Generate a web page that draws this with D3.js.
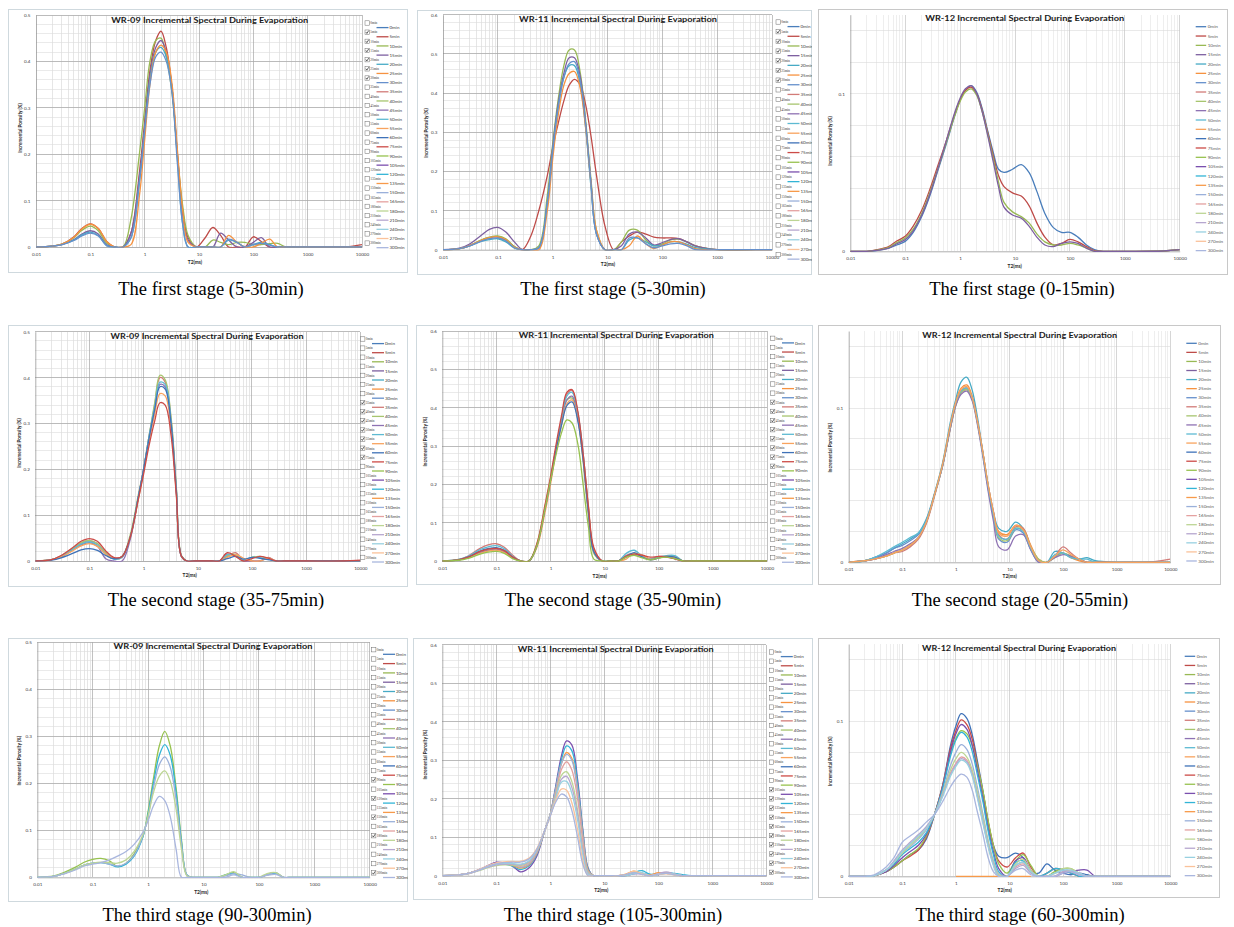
<!DOCTYPE html>
<html>
<head>
<meta charset="utf-8">
<script src="https://cdn.jsdelivr.net/npm/d3@7"></script>
<style>
  body { margin: 0; background: #fff; }
  svg { display: block; }
</style>
</head>
<body>
<svg id="chart" width="1234" height="927"></svg>
<script>
// T2 sample positions (ms), shared by every spectrum below
const t2 = [0.01, 0.02, 0.03, 0.05, 0.07, 0.1, 0.14, 0.2, 0.28, 0.4, 0.56, 0.8,
  1, 1.25, 1.6, 2, 2.5, 3.2, 4, 5, 6.3, 9, 13, 18,
  25, 35, 50, 70, 100, 140, 200, 280, 400, 1000, 5000, 10000];

// legend entries (evaporation time) and their series colours
const minutes = ["0min", "5min", "10min", "15min", "20min", "25min", "30min", "35min", "40min",
  "45min", "50min", "55min", "60min", "75min", "90min", "105min", "120min", "135min", "150min",
  "165min", "180min", "210min", "240min", "270min", "300min"];
const palette = ["#4a7ebb", "#be4b48", "#98b954", "#7d60a0", "#46aac5", "#f69240", "#6690cc",
  "#d27b78", "#a7c56f", "#8e72b3", "#5dbad2", "#f8a35e", "#3f72b8", "#cc4b47", "#97c24f",
  "#7a4fae", "#32b4d6", "#f79a4a", "#9ab0da", "#e4a1a0", "#bcd594", "#b6a6cf", "#98d0e0",
  "#fac29a", "#a9b6de"];

// incremental porosity (%) at each t2 value
const wr09First = [
  ["5min", [0,.002,.006,.022,.04,.05, .04,.012,0,0,.03,.16, .27,.38,.445,.465,.43,.34, .2,.08,.02,0,.02,.042, .025,0,0,0,.022,.012, 0,0,0,0,0,.005]],
  ["10min", [0,.002,.006,.02,.036,.045, .035,.008,0,0,.06,.2, .3,.4,.445,.45,.41,.33, .2,.09,.025,0,0,.015, .01,.005,.01,.01,.005,.005, .007,.008,0,0,0,0]],
  ["15min", [0,.002,.005,.016,.028,.035, .028,.005,0,0,.03,.15, .26,.37,.43,.445,.42,.34, .2,.07,.015,0,0,0, .03,.015,0,0,.01,.02, 0,0,0,0,0,0]],
  ["20min", [0,.002,.005,.015,.026,.032, .025,.003,0,0,.02,.14, .25,.36,.42,.43,.41,.34, .19,.05,0,0,0,0, 0,.015,.01,0,.005,.01, .005,0,0,0,0,0]],
  ["25min", [0,.002,.006,.021,.039,.049, .04,.012,0,0,.005,.11, .23,.35,.42,.435,.42,.35, .21,.08,.01,0,0,0, 0,.025,.01,0,0,.008, .017,0,0,0,0,0]],
  ["30min", [0,.002,.005,.014,.024,.03, .024,.003,0,0,.02,.14, .25,.35,.41,.42,.4,.33, .18,.05,0,0,0,0, 0,.017,.01,0,.005,.008, .004,0,0,0,0,0]]
];

const wr11First = [
  ["5min", [0,.003,.01,.024,.031,.033, .025,.008,0,.035,.1,.19, .26,.32,.38,.42,.435,.42, .37,.29,.19,.06,0,.02, .035,.045,.04,.032,.03,.03, .028,.02,.01,0,0,0]],
  ["10min", [0,.003,.01,.025,.032,.035, .028,.008,0,0,.01,.14, .27,.38,.47,.51,.51,.45, .33,.18,.05,0,0,.02, .05,.05,.025,.01,.015,.025, .027,.02,.01,0,0,0]],
  ["15min", [0,.004,.014,.037,.052,.057, .045,.02,0,0,.005,.12, .26,.37,.45,.49,.49,.44, .32,.17,.04,0,0,.01, .04,.045,.03,.012,.018,.026, .028,.02,.01,0,0,0]],
  ["20min", [0,.003,.009,.021,.026,.028, .02,.004,0,0,.005,.12, .25,.36,.44,.47,.47,.42, .31,.16,.04,0,0,0, .025,.03,.02,.01,.012,.02, .02,.014,.005,0,0,0]],
  ["25min", [0,.003,.01,.024,.031,.033, .026,.006,0,0,0,.1, .23,.34,.42,.45,.455,.41, .31,.17,.05,0,0,0, .01,.035,.015,.003,.012,.02, .02,.012,.003,0,0,0]],
  ["30min", [0,.003,.009,.022,.028,.03, .023,.005,0,0,.005,.12, .25,.36,.44,.475,.48,.43, .32,.17,.04,0,0,0, .03,.03,.015,.005,.01,.015, .016,.01,0,0,0,0]]
];

const wr12First = [
  ["0min", [0,0,.0005,.002,.004,.0063, .012,.022,.035,.052,.068,.086, .096,.102,.105,.101,.091,.076, .063,.052,.05,.052,.055,.05, .038,.024,.015,.012,.012,.009, .004,.001,0,0,.0002,.001]],
  ["5min", [0,0,.001,.003,.0065,.0095, .016,.026,.039,.055,.07,.087, .096,.102,.104,.1,.09,.075, .061,.048,.041,.037,.035,.029, .018,.009,.004,.005,.0075,.006, .003,.0005,0,0,.0002,.001]],
  ["10min", [0,0,.0007,.0025,.0055,.0084, .014,.024,.037,.053,.069,.086, .095,.101,.103,.099,.089,.074, .059,.044,.031,.025,.022,.018, .011,.006,.004,.004,.005,.004, .002,0,0,0,.0002,.001]],
  ["15min", [0,0,.0006,.002,.0048,.0074, .013,.023,.036,.053,.07,.088, .097,.103,.105,.1,.089,.073, .057,.041,.028,.023,.021,.016, .009,.004,.003,.005,.006,.005, .002,0,0,0,.0002,.001]]
];

const wr09Second = [
  ["35min", [0,.003,.011,.027,.039,.044, .038,.018,.005,.008,.05,.14, .2,.27,.34,.4,.39,.31, .16,.01,0,0,0,0, 0,.01,.018,0,0,0, .008,0,0,0,0,0]],
  ["40min", [0,.003,.011,.028,.04,.045, .038,.018,.005,.01,.055,.145, .2,.27,.345,.405,.395,.315, .165,.012,0,0,0,0, 0,.012,.014,0,.008,.01, .005,0,0,0,0,0]],
  ["45min", [0,.003,.01,.025,.035,.04, .032,.005,0,0,.045,.14, .2,.265,.33,.385,.38,.3, .155,.01,0,0,0,0, 0,.015,.01,0,0,0, .006,0,0,0,0,0]],
  ["50min", [0,.003,.01,.026,.037,.042, .035,.015,.004,.008,.05,.14, .2,.27,.335,.39,.385,.305, .16,.01,0,0,0,0, 0,.014,.01,.002,.008,.007, .004,0,0,0,0,0]],
  ["55min", [0,.003,.009,.023,.033,.038, .032,.015,.006,.01,.05,.135, .195,.26,.32,.365,.36,.29, .15,.01,0,0,0,0, 0,.008,.014,.006,0,0, .006,0,0,0,0,0]],
  ["60min", [0,.002,.007,.017,.024,.027, .023,.012,.005,.01,.05,.14, .2,.265,.33,.38,.375,.3, .155,.01,0,0,0,0, 0,.005,.01,.004,.008,.006, .003,0,0,0,0,0]],
  ["75min", [0,.003,.012,.03,.043,.049, .043,.022,.008,.01,.05,.135, .19,.25,.305,.345,.34,.275, .145,.01,0,0,0,0, 0,.018,.01,0,.005,.01, .006,0,0,0,0,.002]]
];

const wr11Second = [
  ["35min", [0,.004,.013,.033,.042,.045, .036,.015,0,0,.04,.14, .21,.29,.37,.435,.445,.385, .28,.14,.03,0,0,0, .015,.02,.012,.005,.012,.012, .008,0,0,0,0,0]],
  ["40min", [0,.003,.009,.022,.028,.03, .025,.01,0,0,.045,.145, .215,.29,.365,.42,.425,.37, .26,.12,.02,0,0,0, .01,.02,.015,.005,.01,.012, .01,0,0,0,0,0]],
  ["45min", [0,.003,.009,.022,.028,.03, .024,.008,0,0,.04,.14, .21,.29,.365,.42,.43,.375, .27,.13,.025,0,0,0, .01,.018,.01,.004,.01,.01, .006,0,0,0,0,0]],
  ["50min", [0,.004,.012,.03,.037,.04, .032,.012,0,0,.04,.14, .21,.29,.37,.43,.44,.385, .28,.14,.03,0,0,0, .02,.028,.012,.004,.01,.014, .014,0,0,0,0,0]],
  ["55min", [0,.003,.008,.02,.026,.028, .022,.008,0,0,.035,.13, .2,.28,.355,.41,.42,.37, .27,.14,.03,0,0,0, .005,.02,.015,.004,.008,.012, .01,0,0,0,0,0]],
  ["60min", [0,.003,.01,.026,.032,.035, .028,.01,0,0,.04,.14, .21,.285,.355,.405,.415,.365, .265,.13,.025,0,0,0, .012,.022,.01,.003,.008,.012, .01,0,0,0,0,0]],
  ["75min", [0,.003,.01,.025,.031,.033, .027,.01,0,0,.045,.15, .22,.3,.38,.44,.447,.39, .28,.145,.035,0,0,0, .012,.018,.015,.01,.012,.01, .005,0,0,0,0,0]],
  ["90min", [0,.002,.007,.018,.023,.025, .02,.006,0,0,.04,.14, .21,.275,.335,.368,.36,.305, .2,.09,.005,0,0,0, .01,.015,.008,.003,.008,.01, .006,0,0,0,0,0]]
];

const wr12Second = [
  ["20min", [0,.001,.003,.006,.009,.012, .015,.019,.028,.045,.064,.092, .106,.117,.12,.112,.095,.071, .05,.033,.022,.02,.026,.022, .01,.001,0,.007,.006,.003, .002,.003,.001,0,0,0]],
  ["25min", [0,.001,.002,.004,.006,.008, .011,.016,.026,.044,.063,.09, .104,.113,.115,.108,.092,.07, .049,.032,.02,.018,.024,.022, .011,.002,0,.004,.006,.003, .001,0,0,0,0,0]],
  ["30min", [0,.001,.003,.006,.009,.011, .014,.018,.027,.044,.062,.089, .103,.111,.113,.107,.092,.07, .048,.03,.015,.013,.021,.019, .008,0,0,.004,.006,.004, .002,0,0,0,0,0]],
  ["35min", [0,.001,.002,.004,.006,.007, .01,.015,.025,.043,.062,.088, .102,.11,.112,.106,.092,.071, .05,.033,.018,.015,.023,.022, .01,.001,0,.004,.01,.006, .002,0,0,0,.0005,.002]],
  ["40min", [0,.001,.002,.004,.006,.008, .011,.016,.026,.044,.062,.088, .102,.11,.112,.106,.091,.07, .049,.031,.016,.014,.022,.021, .01,.002,0,.003,.006,.004, .002,0,0,0,0,0]],
  ["45min", [0,.001,.002,.005,.007,.009, .012,.016,.026,.044,.062,.088, .102,.109,.111,.105,.09,.068, .046,.027,.01,.008,.017,.018, .008,0,0,.003,.005,.004, .002,0,0,0,0,0]],
  ["50min", [0,.001,.003,.007,.01,.013, .016,.019,.027,.044,.063,.09, .104,.111,.113,.107,.092,.07, .049,.031,.017,.015,.022,.02, .009,.001,0,.005,.006,.003, .002,.002,0,0,0,0]],
  ["55min", [0,.001,.002,.004,.006,.008, .011,.016,.026,.044,.063,.09, .104,.112,.114,.107,.092,.071, .05,.033,.019,.017,.024,.021, .01,.001,0,.004,.008,.005, .002,0,0,0,0,0]]
];

const wr09Third = [
  ["90min", [0,.003,.01,.022,.032,.038, .04,.035,.023,.03,.05,.085, .14,.21,.28,.31,.28,.19, .08,.005,0,0,0,0, .005,.01,0,0,0,.005, .01,0,0,0,0,0]],
  ["120min", [0,.002,.008,.018,.026,.03, .031,.028,.022,.028,.045,.085, .135,.2,.26,.282,.26,.18, .075,.005,0,0,0,0, .005,.008,0,0,0,.005, .008,0,0,0,0,0]],
  ["150min", [0,.002,.008,.018,.026,.03, .031,.028,.024,.03,.047,.087, .13,.19,.24,.256,.235,.165, .07,.005,0,0,0,0, .003,.008,.005,0,0,.005, .01,0,0,0,0,0]],
  ["180min", [0,.002,.008,.018,.026,.03, .032,.031,.03,.037,.055,.09, .13,.18,.215,.226,.205,.145, .06,.003,0,0,0,0, .005,.012,0,0,0,.008, .01,0,0,0,0,0]],
  ["300min", [0,.002,.007,.016,.024,.028, .031,.037,.045,.055,.07,.095, .12,.152,.172,.163,.13,.06, 0,0,0,0,0,0, 0,.005,0,0,0,.004, .006,0,0,0,0,0]]
];

const wr11Third = [
  ["105min", [0,.002,.006,.017,.026,.035, .033,.025,.01,.02,.05,.12, .16,.23,.31,.35,.34,.25, .12,.02,0,0,0,0, 0,.005,.006,.002,.003,.008, .004,0,0,0,0,0]],
  ["120min", [0,.002,.006,.016,.024,.03, .03,.025,.016,.025,.055,.12, .16,.225,.3,.337,.325,.24, .115,.018,0,0,0,0, 0,.008,.013,.004,.005,.008, .006,.003,0,0,0,0]],
  ["135min", [0,.002,.006,.016,.024,.03, .031,.027,.02,.028,.058,.12, .16,.22,.29,.32,.305,.225, .105,.015,0,0,0,0, .004,.012,.005,.002,.008,.006, .003,0,0,0,0,0]],
  ["150min", [0,.002,.006,.016,.024,.03, .031,.028,.022,.03,.06,.12, .16,.22,.29,.315,.3,.22, .1,.012,0,0,0,0, .003,.01,.006,0,.004,.006, .004,0,0,0,0,0]],
  ["165min", [0,.002,.006,.016,.024,.03, .032,.03,.024,.033,.062,.12, .158,.21,.275,.296,.275,.2, .09,.01,0,0,0,0, .002,.008,.004,0,.005,.008, .004,0,0,0,0,0]],
  ["180min", [0,.002,.005,.014,.021,.026, .028,.028,.026,.035,.064,.12, .157,.205,.26,.27,.245,.17, .07,.008,0,0,0,0, .002,.01,.006,0,.004,.006, .003,0,0,0,0,0]],
  ["210min", [0,.002,.005,.015,.022,.028, .03,.03,.028,.036,.065,.12, .157,.2,.25,.258,.23,.16, .065,.006,0,0,0,0, 0,.006,.004,0,.005,.01, .004,0,0,0,0,0]],
  ["240min", [0,.002,.006,.016,.024,.03, .032,.032,.03,.038,.066,.12, .157,.2,.243,.245,.215,.145, .055,.004,0,0,0,0, 0,.005,.008,0,.003,.006, .004,0,0,0,0,0]],
  ["270min", [0,.002,.006,.017,.026,.033, .036,.037,.037,.045,.07,.12, .155,.195,.225,.222,.19,.12, .04,0,0,0,0,0, .003,.012,.005,0,.004,.005, .002,0,0,0,0,0]],
  ["300min", [0,.002,.006,.016,.025,.031, .034,.035,.035,.043,.068,.12, .155,.19,.212,.205,.17,.1, .03,0,0,0,0,0, .003,.008,.004,0,.004,.006, .002,0,0,0,0,0]]
];

const wr12Third = [
  ["60min", [0,0,.0005,.003,.006,.01, .014,.017,.024,.04,.058,.085, .097,.105,.102,.092,.075,.055, .035,.02,.013,.012,.015,.012, .003,.002,.008,.004,.002,.001, .002,.001,0,0,0,0]],
  ["75min", [0,0,.0005,.003,.006,.01, .013,.017,.025,.04,.058,.083, .094,.101,.098,.089,.073,.054, .035,.02,.01,.006,.012,.015, .006,0,.002,.005,.004,.002, 0,0,0,0,0,0]],
  ["90min", [0,0,.0005,.003,.006,.01, .014,.018,.026,.04,.057,.08, .089,.094,.092,.085,.072,.055, .036,.02,.008,.002,.01,.014, .007,0,0,.003,.005,.005, .002,0,0,0,0,0]],
  ["105min", [0,0,.0005,.003,.007,.012, .016,.02,.027,.04,.057,.081, .092,.098,.095,.085,.069,.05, .031,.016,.005,0,.01,.012, .004,0,0,0,.002,.003, .004,.004,0,0,0,0]],
  ["120min", [0,0,.0005,.004,.008,.014, .018,.022,.028,.04,.056,.078, .088,.093,.09,.081,.066,.048, .029,.014,.003,0,.009,.01, .003,0,.002,.005,.004,.002, 0,0,0,0,0,0]],
  ["135min", [null,null,null,null,null,null, null,null,null,null,null,null, 0,0,0,0,0,0, 0,0,0,0,0,0, 0,null,null,null,null,null, null,null,null,null,null,null]],
  ["150min", [0,0,.0005,.004,.009,.015, .019,.024,.03,.04,.054,.072, .08,.085,.082,.073,.058,.04, .023,.01,.002,0,.007,.009, .003,0,0,.002,.004,.003, .001,0,0,0,0,0]],
  ["165min", [0,0,.0005,.004,.009,.016, .021,.026,.031,.04,.052,.067, .073,.077,.075,.067,.053,.036, .02,.008,0,0,.006,.008, .003,0,0,0,.003,.004, .002,0,0,0,0,0]],
  ["180min", [0,0,.0005,.004,.009,.015, .02,.025,.031,.04,.053,.069, .076,.08,.077,.069,.055,.038, .022,.009,.001,0,.008,.011, .004,0,0,.002,.005,.005, .002,0,0,0,0,0]],
  ["210min", [0,0,.0005,.004,.01,.017, .022,.027,.032,.04,.052,.066, .072,.076,.074,.066,.052,.035, .02,.008,0,0,.005,.007, .002,0,0,0,.003,.003, .002,0,0,0,0,0]],
  ["240min", [0,0,.0005,.004,.009,.016, .021,.026,.031,.04,.051,.065, .071,.075,.073,.065,.051,.034, .019,.007,0,0,.007,.009, .003,0,0,.002,.004,.004, .002,0,0,0,0,0]],
  ["300min", [0,0,.001,.006,.012,.022, .026,.03,.035,.04,.048,.058, .063,.066,.064,.056,.042,.027, .012,.003,0,0,.004,.005, .001,0,0,0,.002,.003, .001,0,0,0,0,0]]
];

const ticks05 = [0, 0.1, 0.2, 0.3, 0.4, 0.5];
const ticks06 = [0, 0.1, 0.2, 0.3, 0.4, 0.5, 0.6];
const ticks015 = [0, 0.1];
const decades = [0.01, 0.1, 1, 10, 100, 1000, 10000];

// frame: [x, y, w, h]   plot: [x0, y0, x1, y1]
const panels = [
  { title: "WR-09 Incremental Spectral During Evaporation", series: wr09First, ymax: 0.5, yticks: ticks05, legend: "check",
    frame: [8, 9, 400, 264], plot: [36, 15, 362, 247], tx: 209.7, ty: 23, tw: 197, ytx: 20, yty: 128, xtx: 195, xty: 264,
    lx: 365, ly: 23, ls: 9.17, caption: "The first stage (5-30min)", cx: 211, cy: 295 },
  { title: "WR-11 Incremental Spectral During Evaporation", series: wr11First, ymax: 0.6, yticks: ticks06, legend: "check",
    frame: [417, 10, 395, 265], plot: [443, 14.7, 772, 249.7], tx: 618, ty: 22, tw: 198, ytx: 426, yty: 133, xtx: 608, xty: 266,
    lx: 776, ly: 22, ls: 9.69, caption: "The first stage (5-30min)", cx: 613, cy: 295 },
  { title: "WR-12 Incremental Spectral During Evaporation", series: wr12First, ymax: 0.15, yticks: ticks015, legend: "line",
    frame: [818, 9, 410, 266], plot: [850.3, 14.7, 1179.7, 251.3], tx: 1024.7, ty: 21, tw: 199, ytx: 830.7, yty: 141, xtx: 1014.7, xty: 267.5,
    lx: 1195.7, ly: 26.7, ls: 9.33, caption: "The first stage (0-15min)", cx: 1022, cy: 295 },
  { title: "WR-09 Incremental Spectral During Evaporation", series: wr09Second, ymax: 0.5, yticks: ticks05, legend: "check",
    frame: [8, 325, 400, 262], plot: [35.3, 331.7, 360.3, 561], tx: 207, ty: 339, tw: 193, ytx: 19.7, yty: 443, xtx: 189.7, xty: 577,
    lx: 360.5, ly: 339, ls: 9.1, caption: "The second stage (35-75min)", cx: 216, cy: 606 },
  { title: "WR-11 Incremental Spectral During Evaporation", series: wr11Second, ymax: 0.6, yticks: ticks06, legend: "check",
    frame: [416, 325, 397, 260], plot: [442.3, 331, 767, 561], tx: 616.3, ty: 337.5, tw: 195, ytx: 425.3, yty: 441.7, xtx: 599.7, xty: 577.5,
    lx: 770.5, ly: 338.3, ls: 9.14, caption: "The second stage (35-90min)", cx: 613, cy: 606 },
  { title: "WR-12 Incremental Spectral During Evaporation", series: wr12Second, ymax: 0.15, yticks: ticks015, legend: "line",
    frame: [818, 325, 403, 260], plot: [848.7, 331, 1170.3, 562.3], tx: 1019.7, ty: 338, tw: 195, ytx: 830.3, yty: 447.7, xtx: 1009.7, xty: 577.5,
    lx: 1186.3, ly: 343.3, ls: 9.07, caption: "The second stage (20-55min)", cx: 1020, cy: 606 },
  { title: "WR-09 Incremental Spectral During Evaporation", series: wr09Third, ymax: 0.5, yticks: ticks05, legend: "check",
    frame: [8, 638, 400, 264], plot: [37.3, 642, 369.7, 877.3], tx: 213, ty: 648.8, tw: 199, ytx: 19.7, yty: 760.7, xtx: 201.3, xty: 894,
    lx: 371.5, ly: 649.7, ls: 9.3, caption: "The third stage (90-300min)", cx: 207, cy: 921 },
  { title: "WR-11 Incremental Spectral During Evaporation", series: wr11Third, ymax: 0.6, yticks: ticks06, legend: "check",
    frame: [413, 638, 400, 262], plot: [442.3, 644.7, 766.3, 875.7], tx: 615.7, ty: 652, tw: 196, ytx: 425.3, yty: 754.7, xtx: 601.3, xty: 892,
    lx: 769.3, ly: 652, ls: 9.18, caption: "The third stage (105-300min)", cx: 613, cy: 921 },
  { title: "WR-12 Incremental Spectral During Evaporation", series: wr12Third, ymax: 0.15, yticks: ticks015, legend: "line",
    frame: [818, 638, 402, 260], plot: [848.7, 644, 1170.3, 876.3], tx: 1019, ty: 651, tw: 194, ytx: 830.3, yty: 761.3, xtx: 1004.7, xty: 892,
    lx: 1184.7, ly: 656.3, ls: 9.14, caption: "The third stage (60-300min)", cx: 1020, cy: 921 }
];

const svg = d3.select("#chart");
const defs = svg.append("defs");
const sans = "Lato, 'Open Sans', sans-serif";

panels.forEach((p, idx) => {
  const [fx, fy, fw, fh] = p.frame;
  const [x0, y0, x1, y1] = p.plot;
  const plain = p.legend === "line"; // WR-12 charts: lighter grid, no checkboxes

  defs.append("clipPath").attr("id", `frame${idx}`).append("rect")
    .attr("x", fx).attr("y", fy).attr("width", fw).attr("height", fh);
  defs.append("clipPath").attr("id", `plot${idx}`).append("rect")
    .attr("x", x0).attr("y", y0 - 3).attr("width", x1 - x0).attr("height", y1 - y0 + 3.7);

  const g = svg.append("g").attr("clip-path", `url(#frame${idx})`);
  g.append("rect")
    .attr("x", fx + 0.5).attr("y", fy + 0.5).attr("width", fw - 1).attr("height", fh - 1)
    .attr("fill", "#fff").attr("stroke", plain ? "#c8c8c8" : "#cfd9de");

  const x = d3.scaleLog().domain([0.01, 10000]).range([x0, x1]);
  const y = d3.scaleLinear().domain([0, p.ymax]).range([y1, y0]);

  const minorX = [];
  for (let e = -2; e < 4; e++) for (let k = 2; k < 10; k++) minorX.push(k * Math.pow(10, e));
  const minorY = d3.range(1, Math.floor(p.ymax / 0.02 + 1e-6) + 1).map((k) => k * 0.02);
  const majorY = plain ? [] : p.yticks.filter((d) => d > 0);

  const grid = g.append("g").attr("shape-rendering", "crispEdges");
  grid.selectAll(".vmin").data(minorX).join("line")
    .attr("x1", (d) => x(d)).attr("x2", (d) => x(d)).attr("y1", y0).attr("y2", y1)
    .attr("stroke", plain ? "#e3e3e3" : "#d6d6d6").attr("stroke-width", 0.6);
  grid.selectAll(".hmin").data(minorY).join("line")
    .attr("x1", x0).attr("x2", x1).attr("y1", (d) => y(d)).attr("y2", (d) => y(d))
    .attr("stroke", plain ? "#dadada" : "#dcdcdc").attr("stroke-width", 0.6);
  grid.selectAll(".vmaj").data(decades.slice(1)).join("line")
    .attr("x1", (d) => x(d)).attr("x2", (d) => x(d)).attr("y1", y0).attr("y2", y1)
    .attr("stroke", plain ? "#c4c4c4" : "#a6a6a6").attr("stroke-width", 0.7);
  grid.selectAll(".hmaj").data(majorY).join("line")
    .attr("x1", x0).attr("x2", x1).attr("y1", (d) => y(d)).attr("y2", (d) => y(d))
    .attr("stroke", "#a6a6a6").attr("stroke-width", 0.7);

  // axes
  const styleAxis = (a) => {
    a.select(".domain").attr("stroke", "#8c8c8c").attr("stroke-width", 0.7);
    a.selectAll("text").attr("font-size", 4.6).attr("font-family", sans).attr("fill", "#404040");
  };
  g.append("g").attr("transform", `translate(0,${y1})`)
    .call(d3.axisBottom(x).tickValues(decades).tickFormat(d3.format("~g")).tickSize(0).tickSizeOuter(0).tickPadding(5.7))
    .call(styleAxis);
  g.append("g").attr("transform", `translate(${x0},0)`)
    .call(d3.axisLeft(y).tickValues(p.yticks).tickFormat(d3.format("~g")).tickSize(0).tickSizeOuter(0).tickPadding(5.5))
    .call(styleAxis);

  // spectra
  const line = d3.line()
    .defined((v) => v !== null)
    .x((v, i) => x(t2[i]))
    .y((v) => y(v))
    .curve(d3.curveCatmullRom.alpha(0.5));
  g.append("g").attr("clip-path", `url(#plot${idx})`)
    .selectAll("path").data(p.series).join("path")
    .attr("d", (s) => line(s[1]))
    .attr("fill", "none")
    .attr("stroke", (s) => palette[minutes.indexOf(s[0])])
    .attr("stroke-width", 1.3)
    .attr("stroke-linejoin", "round");

  // titles
  g.append("text").attr("x", p.tx).attr("y", p.ty).attr("text-anchor", "middle")
    .attr("font-family", sans).attr("font-weight", "bold").attr("font-size", 8.3).attr("fill", "#1a1a1a")
    .attr("textLength", p.tw).attr("lengthAdjust", "spacingAndGlyphs")
    .text(p.title);
  g.append("text")
    .attr("transform", `translate(${p.ytx},${p.yty}) rotate(-90)`)
    .attr("text-anchor", "middle").attr("dy", "0.35em")
    .attr("font-family", sans).attr("font-weight", "bold").attr("font-size", 4.6).attr("fill", "#262626")
    .text("Incremental Porosity (%)");
  g.append("text").attr("x", p.xtx).attr("y", p.xty).attr("text-anchor", "middle")
    .attr("font-family", sans).attr("font-weight", "bold").attr("font-size", 4.8).attr("fill", "#262626")
    .text("T2(ms)");

  // legend
  const shown = new Set(p.series.map((s) => s[0]));
  const leg = g.append("g");
  minutes.forEach((m, i) => {
    const ly = p.ly + i * p.ls;
    if (plain) {
      leg.append("line").attr("x1", p.lx).attr("x2", p.lx + 10.5).attr("y1", ly).attr("y2", ly)
        .attr("stroke", palette[i]).attr("stroke-width", 1.3);
      leg.append("text").attr("x", p.lx + 12).attr("y", ly + 1.6)
        .attr("font-family", sans).attr("font-size", 4.6).attr("fill", "#595959").text(m);
    } else {
      leg.append("rect").attr("x", p.lx).attr("y", ly - 2.2).attr("width", 4.4).attr("height", 4.4)
        .attr("fill", "#fff").attr("stroke", "#6b6b6b").attr("stroke-width", 0.5);
      if (shown.has(m)) {
        leg.append("path")
          .attr("d", `M${p.lx + 0.9},${ly - 0.1} L${p.lx + 1.9},${ly + 1.3} L${p.lx + 3.7},${ly - 1.6}`)
          .attr("fill", "none").attr("stroke", "#222").attr("stroke-width", 0.7);
      }
      leg.append("text").attr("x", p.lx + 5.3).attr("y", ly + 1.3)
        .attr("font-family", "'Liberation Serif', serif").attr("font-size", 3.4).attr("fill", "#333").text(m);
      leg.append("line").attr("x1", p.lx + 11.5).attr("x2", p.lx + 23.5).attr("y1", ly + 4.6).attr("y2", ly + 4.6)
        .attr("stroke", palette[i]).attr("stroke-width", 1.3);
      leg.append("text").attr("x", p.lx + 24.5).attr("y", ly + 6.2)
        .attr("font-family", sans).attr("font-size", 4.5).attr("fill", "#404040").text(m);
    }
  });

  // caption under the chart
  svg.append("text").attr("x", p.cx).attr("y", p.cy).attr("text-anchor", "middle")
    .attr("font-family", "'Liberation Serif', 'Times New Roman', serif").attr("font-size", 18.5).attr("fill", "#000")
    .text(p.caption);
});
</script>
</body>
</html>
